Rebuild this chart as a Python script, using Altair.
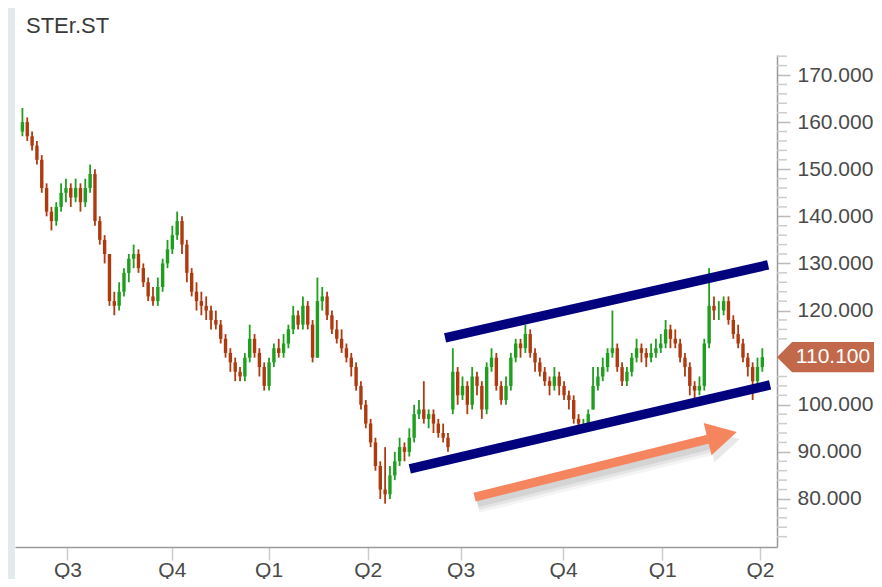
import altair as alt
import pandas as pd

# ---------------- data ----------------
opens = [158,160,157,155,152,146,141,139,142,145,
         146,144,146,143,146,149,139,135,132,122,
         121,124,128,131,132,129,126,123,122,125,
         130,133,136,139,134,128,124,122,121,120,
         118,117,114,111,109,107,106,110,114,111,
         108,104,109,112,111,113,116,119,117,121,
         117,110,122,123,119,116,114,112,110,108,
         104,100,96,92,87,82,81,85,88,91,
         90,93,98,99,97,98,96,94,93,99,
         107,102,104,100,106,104,99,108,110,104,
         101,104,110,113,112,115,111,109,107,105,
         104,106,104,102,101,97,96,96,99,104,
         106,108,111,112,108,105,107,110,112,111,
         110,111,112,113,116,114,113,110,108,104,
         103,104,113,121,120,120,122,118,115,113,
         110,108,105,108]
highs = [163,161,158,156,153,147,142,143,147,148,
         147,148,147,148,151,150,140,136,132,124,
         126,129,132,134,133,130,127,125,127,131,
         135,138,141,140,135,129,126,124,123,121,
         120,118,115,112,110,108,111,117,115,112,
         109,110,113,114,115,117,121,120,123,122,
         118,127,125,124,120,118,116,113,111,109,
         105,101,97,93,88,91,87,90,93,92,
         95,100,101,105,99,99,97,96,94,112,
         108,106,105,108,107,105,109,112,111,105,
         106,111,114,114,117,116,112,110,108,106,
         108,107,105,103,102,98,97,99,108,108,
         110,112,120,113,109,108,111,114,113,112,
         113,114,115,118,117,116,114,111,109,105,
         106,114,129,123,122,123,123,119,117,114,
         111,109,110,112]
lows = [157,156,154,151,145,140,137,138,141,143,
        142,143,141,142,145,138,134,130,121,119,
        120,123,126,129,128,125,122,121,121,124,
        129,132,135,132,126,123,120,119,118,116,
        116,113,110,107,105,105,105,109,110,106,
        103,103,108,110,110,112,115,116,116,116,
        109,110,120,118,115,113,111,109,106,103,
        99,95,91,86,80,79,80,84,87,88,
        89,92,97,96,95,94,93,92,90,98,
        100,101,98,99,102,97,98,107,103,100,
        100,103,109,110,111,110,107,106,104,102,
        103,102,101,99,96,95,95,95,99,103,
        105,107,110,107,104,104,106,109,109,108,
        109,110,111,112,112,112,109,106,102,101,
        102,103,112,118,118,119,117,114,112,109,
        106,101,104,107]
closes = [160,157,155,152,146,141,139,142,145,146,
          144,146,143,146,149,139,135,132,122,121,
          124,128,131,132,129,126,123,122,125,130,
          133,136,139,134,128,124,122,121,120,118,
          117,114,111,109,107,106,110,114,111,108,
          104,109,112,111,113,116,119,117,121,117,
          110,122,123,119,116,114,112,110,108,104,
          100,96,92,87,82,81,85,88,91,90,
          93,98,99,97,98,96,94,93,91,107,
          102,104,100,106,104,99,108,110,104,101,
          104,110,113,112,115,111,109,107,105,104,
          106,104,102,101,97,96,96,98,104,106,
          108,111,112,108,105,107,110,112,111,110,
          111,112,113,116,114,113,110,108,104,103,
          104,113,121,120,120,122,118,115,113,110,
          108,105,108,110.1]

quarter_pos = [9.3, 30.9, 50.9, 71.4, 90.6, 111.8, 132.3, 152.5]
quarter_lbl = ["Q3", "Q4", "Q1", "Q2", "Q3", "Q4", "Q1", "Q2"]
y_major = [80, 90, 100, 120, 130, 140, 150, 160, 170]
y_minor = [72, 74, 76, 78, 82, 84, 86, 88, 92, 94, 96, 98, 102, 104, 106,
           114, 116, 118, 122, 124, 126, 128, 132, 134, 136, 138, 142, 144,
           146, 148, 152, 154, 156, 158, 162, 164, 166, 168, 172, 174]
last_price = [110.1]
title_text = ["STEr.ST"]

# channel trend lines (bar index / price)
chan_x1 = [87.4, 80.1]
chan_y1 = [114.2, 86.4]
chan_x2 = [154.2, 154.6]
chan_y2 = [129.7, 104.2]
# orange arrow
arrow_x1 = [93.5]
arrow_y1 = [80.4]
arrow_x2 = [141.8]
arrow_y2 = [92.7]
head_x = [144.7]
head_y = [93.45]

# ---------------- styling ----------------
W, H = 762, 492
FONT = "Liberation Sans"
GREEN, RED = "#1f9f1f", "#b03a10"
NAVY = "#02027f"
ORANGE = "#f5855f"
TAG = "#c2684b"
EDGE = "#e3eaee"

df = pd.DataFrame({"t": list(range(len(closes))), "o": opens, "h": highs,
                   "l": lows, "c": closes})
chan_df = pd.DataFrame({"x1": chan_x1, "y1": chan_y1, "x2": chan_x2, "y2": chan_y2})
arrow_df = pd.DataFrame({"x1": arrow_x1, "y1": arrow_y1, "x2": arrow_x2, "y2": arrow_y2})
head_df = pd.DataFrame({"x": head_x, "y": head_y})
minor_df = pd.DataFrame({"v": y_minor})
tag_df = pd.DataFrame({"p": last_price, "label": [f"{v:.3f}" for v in last_price]})
title_df = pd.DataFrame({"t": title_text})
one = pd.DataFrame({"a": [0]})

xscale = alt.Scale(domain=[-0.5, 155], nice=False, zero=False)
yscale = alt.Scale(domain=[69.8, 174.25], nice=False, zero=False)

label_expr = ("[" + ",".join(f"'{q}'" for q in quarter_lbl) + "][indexof(["
              + ",".join(str(p) for p in quarter_pos) + "], datum.value)]")

xaxis = alt.Axis(values=quarter_pos, labelExpr=label_expr, title=None, grid=False,
                 orient="bottom", domainColor="#9a9a9a", domainWidth=1.5,
                 tickColor="#cccccc", tickWidth=1.5, tickSize=13, labelPadding=-1,
                 labelFontSize=21, labelColor="#4a4a4a", labelFont=FONT,
                 labelOverlap=False, labelFlush=False)
yaxis = alt.Axis(values=y_major, format=".3f", orient="right", title=None, grid=False,
                 domainColor="#9a9a9a", domainWidth=1.5, tickColor="#bbbbbb",
                 tickWidth=1.5, tickSize=13, labelPadding=7, labelFontSize=21,
                 labelColor="#4a4a4a", labelFont=FONT, labelOverlap=False)


def X(field):
    return alt.X(field, scale=xscale, axis=xaxis)


def Y(field):
    return alt.Y(field, scale=yscale, axis=yaxis)


# light strip at the left edge of the page panel
strip_left = alt.Chart(one).mark_rect(color=EDGE).encode(
    x=alt.value(-7), x2=alt.value(0), y=alt.value(-47), y2=alt.value(H + 32))

minor = alt.Chart(minor_df).mark_rule(color="#cccccc", strokeWidth=1.5).encode(
    y=Y("v:Q"), x=alt.value(W), x2=alt.value(W + 10))

color_cond = alt.condition("datum.c >= datum.o", alt.value(GREEN), alt.value(RED))

wicks = alt.Chart(df).mark_rule(strokeWidth=1.8).encode(
    x=X("t:Q"), y=Y("l:Q"), y2="h:Q", color=color_cond)

bodies = alt.Chart(df).mark_bar(size=3.4).encode(
    x=X("t:Q"), y=Y("o:Q"), y2="c:Q", color=color_cond)

channels = alt.Chart(chan_df).mark_rule(strokeWidth=9.5, color=NAVY).encode(
    x=X("x1:Q"), y=Y("y1:Q"), x2="x2:Q", y2="y2:Q")

shadow_layers = []
for sw, op, off in [(16, 0.06, 8), (12, 0.08, 7), (8, 0.10, 6)]:
    shadow_layers.append(alt.Chart(arrow_df).mark_rule(
        strokeWidth=sw, color="#444444", opacity=op,
        xOffset=3, x2Offset=3, yOffset=off, y2Offset=off).encode(
        x=X("x1:Q"), y=Y("y1:Q"), x2="x2:Q", y2="y2:Q"))

arrow = alt.Chart(arrow_df).mark_rule(strokeWidth=9, color=ORANGE).encode(
    x=X("x1:Q"), y=Y("y1:Q"), x2="x2:Q", y2="y2:Q")

HEAD_PATH = "M -1 -1.1 L 1 0 L -1 1.1 Z"
head_shadow = alt.Chart(head_df).mark_point(
    shape=HEAD_PATH, size=900, angle=346.3, filled=True, fill="#444444",
    opacity=0.12, strokeWidth=0, xOffset=3, yOffset=7).encode(
    x=X("x:Q"), y=Y("y:Q"))
head = alt.Chart(head_df).mark_point(
    shape=HEAD_PATH, size=900, angle=346.3, filled=True, fill=ORANGE,
    opacity=1, strokeWidth=0).encode(
    x=X("x:Q"), y=Y("y:Q"))

TAG_PATH = "M -1 0 L -0.72 -0.28 L 1 -0.28 L 1 0.28 L -0.72 0.28 Z"
tag = alt.Chart(tag_df).mark_point(
    shape=TAG_PATH, size=11664, filled=True, fill=TAG, opacity=1, strokeWidth=0).encode(
    x=alt.value(W + 54), y=Y("p:Q"))
tag_text = alt.Chart(tag_df).mark_text(
    font=FONT, fontSize=21, color="white", align="center", baseline="middle").encode(
    x=alt.value(W + 56), y=Y("p:Q"), text="label:N")

title = alt.Chart(title_df).mark_text(
    font=FONT, fontSize=22, color="#3a3a3a", align="left", baseline="alphabetic").encode(
    x=alt.value(11), y=alt.value(-22), text="t:N")

chart = alt.layer(
    wicks, strip_left, minor, bodies, channels, *shadow_layers, arrow,
    head_shadow, head, tag, tag_text, title
).properties(
    width=W, height=H,
    padding={"left": 7, "top": 47, "right": 97, "bottom": 32},
    autosize=alt.AutoSizeParams(type="none"),
    background="white",
).configure_view(stroke=None)

chart.save("out.html", embed_options={"renderer": "svg", "actions": False})
